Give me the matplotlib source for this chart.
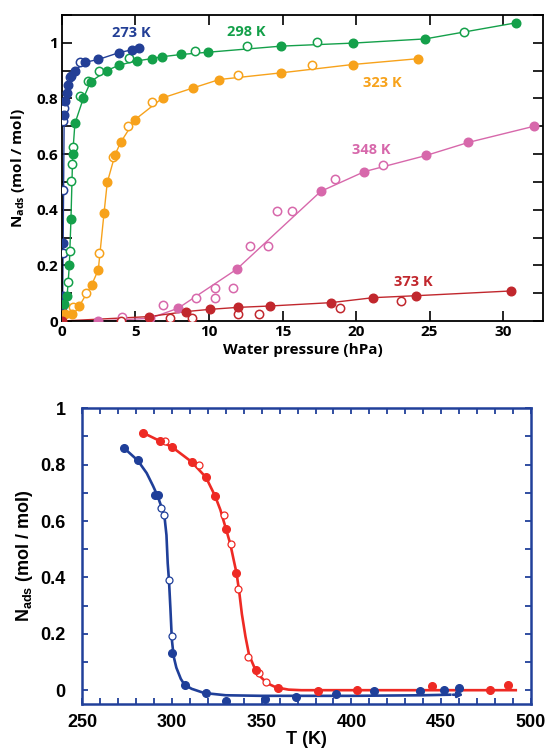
import matplotlib
matplotlib.use("Agg")
import matplotlib.pyplot as plt
from matplotlib.ticker import MultipleLocator

# --- top panel: water isotherms (pressure in hPa, N_ads in mol/mol) ---
p273_f = [0.03, 0.05, 0.08, 0.15, 0.22, 0.32, 0.39, 0.61, 0.88, 1.56, 2.47, 3.90, 4.78, 5.26]
n273_f = [0.05, 0.09, 0.28, 0.74, 0.79, 0.82, 0.85, 0.88, 0.90, 0.93, 0.94, 0.965, 0.975, 0.98]
p273_o = [0.05, 0.07, 0.10, 0.12, 0.54, 1.22]
n273_o = [0.245, 0.47, 0.72, 0.765, 0.877, 0.93]

p298_f = [0.15, 0.35, 0.50, 0.61, 0.73, 0.88, 1.45, 1.95, 3.04, 3.9, 5.08, 6.1, 6.82, 8.1, 9.91, 14.9, 19.82, 24.7, 30.9]
n298_f = [0.06, 0.09, 0.2, 0.365, 0.6, 0.71, 0.80, 0.86, 0.90, 0.92, 0.935, 0.943, 0.95, 0.958, 0.966, 0.988, 0.999, 1.014, 1.072]
p298_o = [0.39, 0.54, 0.61, 0.65, 0.73, 1.22, 1.79, 2.52, 4.58, 9.05, 12.56, 17.33, 27.35]
n298_o = [0.14, 0.25, 0.504, 0.565, 0.624, 0.808, 0.864, 0.90, 0.944, 0.972, 0.99, 1.003, 1.04]

p323_f = [0.0, 0.2, 0.65, 1.18, 2.02, 2.47, 2.86, 3.08, 3.61, 3.99, 4.97, 6.85, 8.93, 10.7, 14.9, 19.77, 24.24]
n323_f = [0.02, 0.025, 0.027, 0.054, 0.13, 0.184, 0.388, 0.498, 0.598, 0.642, 0.724, 0.802, 0.838, 0.868, 0.892, 0.922, 0.943]
p323_o = [0.73, 1.63, 2.54, 3.45, 4.47, 6.1, 12.0, 16.99]
n323_o = [0.05, 0.10, 0.244, 0.588, 0.70, 0.786, 0.886, 0.922]

p348_f = [2.47, 6.0, 7.9, 11.88, 17.6, 20.57, 24.76, 27.64, 32.1]
n348_f = [0.0, 0.01, 0.046, 0.186, 0.466, 0.537, 0.595, 0.642, 0.70]
p348_o = [4.06, 6.85, 9.1, 10.4, 10.4, 11.6, 12.79, 13.99, 14.6, 15.63, 18.57, 21.8]
n348_o = [0.016, 0.058, 0.082, 0.082, 0.118, 0.118, 0.268, 0.268, 0.396, 0.396, 0.511, 0.56]

p373_f = [0.0, 5.94, 8.44, 10.07, 11.95, 14.15, 18.28, 21.18, 24.08, 30.52]
n373_f = [0.0, 0.016, 0.034, 0.042, 0.049, 0.054, 0.066, 0.084, 0.091, 0.108]
p373_o = [4.0, 7.35, 8.82, 12.0, 13.42, 18.9, 23.04]
n373_o = [0.0, 0.012, 0.012, 0.024, 0.024, 0.048, 0.072]

# label positions (pressure, N) for each isotherm
iso_labels = ["273 K", "298 K", "323 K", "348 K", "373 K"]
iso_colors = ["#233f96", "#14a04a", "#f7a21b", "#d768ab", "#c1272d"]
label_p = [4.7, 12.5, 21.8, 21.0, 23.9]
label_n = [1.037, 1.04, 0.857, 0.616, 0.14]

# --- bottom panel: N_ads vs temperature ---
blue_T_f = [273.2, 281.0, 290.8, 292.2, 300.0, 307.1, 318.8, 330.0, 351.8, 369.1, 391.3, 412.8, 437.9, 451.7, 459.9]
blue_N_f = [0.86, 0.816, 0.691, 0.691, 0.133, 0.02, -0.009, -0.039, -0.03, -0.023, -0.015, -0.004, -0.004, 0.002, 0.006]
blue_T_o = [294.1, 295.4, 298.4, 300.3]
blue_N_o = [0.647, 0.623, 0.39, 0.191]
blue_fit_T = [273.2, 281, 286, 289.5, 292, 294.5, 296, 297, 297.7, 298.4, 299.2, 300, 301, 302.5, 305, 307, 311, 318, 330, 350, 400, 440, 455, 464]
blue_fit_N = [0.86, 0.815, 0.77, 0.725, 0.69, 0.645, 0.61, 0.55, 0.45, 0.39, 0.29, 0.18, 0.12, 0.08, 0.04, 0.02, 0.005, -0.01, -0.018, -0.02, -0.02, -0.018, -0.016, -0.016]

red_T_f = [284.2, 293.2, 300.2, 311.2, 319.2, 323.9, 330.0, 336.0, 347.1, 359.2, 381.2, 403.3, 445.0, 476.9, 487.1]
red_N_f = [0.913, 0.883, 0.863, 0.81, 0.755, 0.688, 0.573, 0.416, 0.071, 0.008, -0.003, 0.002, 0.014, 0.002, 0.017]
red_T_o = [296.3, 315.1, 329.1, 332.8, 336.9, 342.5, 348.5, 352.2]
red_N_o = [0.883, 0.80, 0.623, 0.519, 0.36, 0.118, 0.062, 0.03]
red_fit_T = [284, 293, 300, 311, 319, 324, 327, 330, 332.5, 334.5, 336, 337.5, 339, 341, 343, 346, 349, 353, 358, 365, 372, 491.5]
red_fit_N = [0.913, 0.885, 0.863, 0.81, 0.755, 0.69, 0.64, 0.575, 0.52, 0.46, 0.416, 0.35, 0.27, 0.19, 0.125, 0.08, 0.05, 0.025, 0.01, 0.002, 0.0, 0.0]

fig = plt.figure(figsize=(5.47, 7.49), dpi=100)

# ---------------- top panel ----------------
top_font = "Open Sans"
ax1 = fig.add_axes([0.1133, 0.5714, 0.879, 0.4086])
series = [
    (p273_f, n273_f, p273_o, n273_o),
    (p298_f, n298_f, p298_o, n298_o),
    (p323_f, n323_f, p323_o, n323_o),
    (p348_f, n348_f, p348_o, n348_o),
    (p373_f, n373_f, p373_o, n373_o),
]
for (pf, nf, po, no), c in zip(series, iso_colors):
    ax1.plot(pf, nf, "-", color=c, lw=1.0, zorder=2)
    ax1.plot(po, no, "o", ms=6, mfc="white", mec=c, mew=1.1, ls="none", zorder=3)
    ax1.plot(pf, nf, "o", ms=6.2, color=c, ls="none", zorder=4)

for lab, c, px, py in zip(iso_labels, iso_colors, label_p, label_n):
    ax1.text(px, py, lab, color=c, fontsize=10.5, fontweight="bold",
             family=top_font, ha="center", va="center")

ax1.set_xlim(0, 32.7)
ax1.set_ylim(0, 1.1)
ax1.xaxis.set_major_locator(MultipleLocator(5))
ax1.yaxis.set_major_locator(MultipleLocator(0.2))
ax1.yaxis.set_minor_locator(MultipleLocator(0.1))
ax1.tick_params(which="both", direction="in", top=True, right=True, width=1.2, pad=3)
ax1.tick_params(which="major", length=7)
ax1.tick_params(which="minor", length=4)
ax1.tick_params(axis="y", which="minor", right=True, length=7)
ax1.set_yticks([0, 0.2, 0.4, 0.6, 0.8, 1.0])
ax1.set_yticklabels(["0", "0.2", "0.4", "0.6", "0.8", "1"])
for lbl in ax1.get_xticklabels() + ax1.get_yticklabels():
    lbl.set_family(top_font)
    lbl.set_fontweight("bold")
    lbl.set_fontsize(11)
for sp in ax1.spines.values():
    sp.set_linewidth(1.3)
ax1.set_xlabel("Water pressure (hPa)", family=top_font, fontweight="bold", fontsize=11, labelpad=3)
ax1.set_ylabel(r"N$_\mathregular{ads}$ (mol / mol)", family=top_font, fontweight="bold", fontsize=11)
ax1.yaxis.set_label_coords(-0.073, 0.5)

# ---------------- bottom panel ----------------
bot_font = "Liberation Sans"
spine_blue = "#21409a"
ax2 = fig.add_axes([0.15, 0.0597, 0.8208, 0.3952])
ax2.plot(red_fit_T, red_fit_N, "-", color="#ee2a24", lw=1.9, zorder=2)
ax2.plot(blue_fit_T[:-1], blue_fit_N[:-1], "-", color="#1f3f99", lw=1.9, zorder=2)
ax2.annotate("", xy=(blue_fit_T[-1], blue_fit_N[-1]), xytext=(blue_fit_T[-2], blue_fit_N[-2]),
             arrowprops=dict(arrowstyle="-|>", color="#1f3f99", lw=1.9, mutation_scale=8))
ax2.plot(red_T_o, red_N_o, "o", ms=5, mfc="white", mec="#ee2a24", mew=0.9, ls="none", zorder=3)
ax2.plot(red_T_f, red_N_f, "o", ms=5.5, color="#ee2a24", ls="none", zorder=4)
ax2.plot(blue_T_o, blue_N_o, "o", ms=5, mfc="white", mec="#1f3f99", mew=0.9, ls="none", zorder=3)
ax2.plot(blue_T_f, blue_N_f, "o", ms=5.5, color="#1f3f99", ls="none", zorder=4)

ax2.set_xlim(250, 500)
ax2.set_ylim(-0.05, 1.0)
ax2.xaxis.set_major_locator(MultipleLocator(50))
ax2.xaxis.set_minor_locator(MultipleLocator(10))
ax2.yaxis.set_major_locator(MultipleLocator(0.2))
ax2.yaxis.set_minor_locator(MultipleLocator(0.1))
ax2.tick_params(which="both", direction="in", top=True, right=True, color=spine_blue,
                width=1.3, length=4, pad=7)
ax2.tick_params(axis="y", pad=12)
ax2.set_yticks([0, 0.2, 0.4, 0.6, 0.8, 1.0])
ax2.set_yticklabels(["0", "0.2", "0.4", "0.6", "0.8", "1"])
for lbl in ax2.get_xticklabels() + ax2.get_yticklabels():
    lbl.set_family(bot_font)
    lbl.set_fontweight("bold")
    lbl.set_fontsize(13)
for sp in ax2.spines.values():
    sp.set_color(spine_blue)
    sp.set_linewidth(1.8)
ax2.set_xlabel("T (K)", family=bot_font, fontweight="bold", fontsize=13, labelpad=0)
ax2.set_ylabel(r"N$_\mathregular{ads}$ (mol / mol)", family=bot_font, fontweight="bold", fontsize=13)
ax2.yaxis.set_label_coords(-0.105, 0.5)

fig.savefig("out.png", dpi=100)
